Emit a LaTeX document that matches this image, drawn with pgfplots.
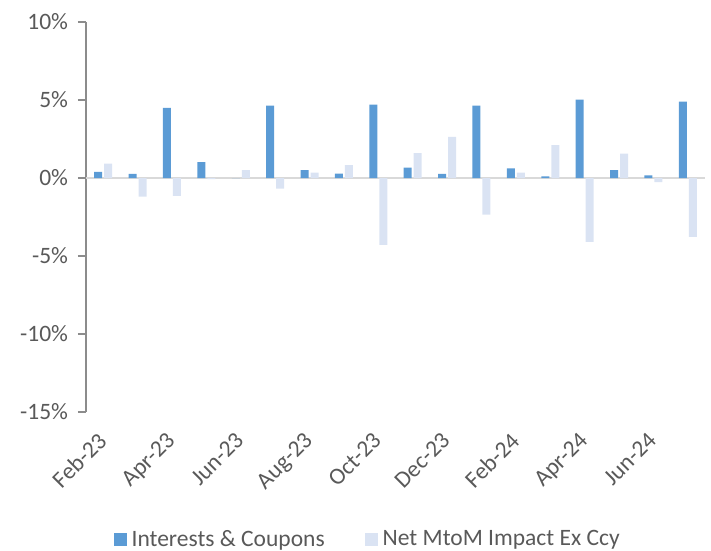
\documentclass[border=0pt]{standalone}
\usepackage{fontspec}
\setmainfont{Carlito}
\usepackage{pgfplots}
\pgfplotsset{compat=1.18}
\usepackage{pgfplotstable}
\definecolor{ic}{HTML}{5B9BD5}
\definecolor{mtm}{HTML}{DAE3F3}
\definecolor{txt}{HTML}{595959}
\definecolor{axg}{HTML}{8C8C8C}
\definecolor{zl}{HTML}{D9D9D9}
\pgfplotstableread{
x ic mtm
0 0.40 0.92
1 0.26 -1.19
2 4.49 -1.15
3 1.02 -0.08
4 0.00 0.51
5 4.64 -0.68
6 0.51 0.34
7 0.28 0.83
8 4.71 -4.28
9 0.66 1.60
10 0.26 2.64
11 4.64 -2.34
12 0.62 0.34
13 0.11 2.11
14 5.03 -4.09
15 0.51 1.56
16 0.17 -0.26
17 4.90 -3.77
}\data
\begin{document}
\fontsize{23.5bp}{28bp}\selectfont
\begin{tikzpicture}
\begin{axis}[
  scale only axis,
  width=619bp, height=390bp,
  at={(0,0)}, anchor=south west,
  xmin=-0.5, xmax=17.5,
  ymin=-15, ymax=10,
  ybar=2bp, bar width=8bp,
  axis y line*=left,
  axis x line*=bottom,
  x axis line style={draw=none},
  y axis line style={draw=axg, line width=1.2bp},
  xtick={0,2,...,16},
  xticklabels={Feb-23,Apr-23,Jun-23,Aug-23,Oct-23,Dec-23,Feb-24,Apr-24,Jun-24},
  x tick label style={rotate=45, anchor=north east, font=\fontsize{23.5bp}{28bp}\selectfont, text=txt, inner sep=1bp, xshift=-11.5bp, yshift=-2bp},
  xtick style={draw=none},
  ytick={-15,-10,-5,0,5,10},
  yticklabels={-15\%,-10\%,-5\%,0\%,5\%,10\%},
  y tick label style={font=\fontsize{23.5bp}{28bp}\selectfont, text=txt, xshift=-2bp},
  ytick style={draw=axg, line width=1.2bp},
  tick align=outside,
  major tick length=8bp,
  legend columns=2,
  legend style={at={(0.455,-0.328)}, anchor=center, draw=none, fill=none,
    font=\fontsize{23.5bp}{28bp}\selectfont, text=txt,
    /tikz/every odd column/.append style={column sep=3bp},
    /tikz/every even column/.append style={column sep=38bp}},
  legend image code/.code={\fill[#1] (0bp,-6bp) rectangle (13bp,7bp);},
]
\draw[zl, line width=2bp] (axis cs:-0.5,0) -- (axis cs:17.5,0);
\addplot[fill=ic, draw=none] table[x=x, y=ic] {\data};
\addplot[fill=mtm, draw=none] table[x=x, y=mtm] {\data};
\legend{Interests \& Coupons, Net MtoM Impact Ex Ccy}
\end{axis}
\pgfresetboundingbox
\path (-86bp,-139bp) rectangle (625bp,412bp);
\end{tikzpicture}
\end{document}
